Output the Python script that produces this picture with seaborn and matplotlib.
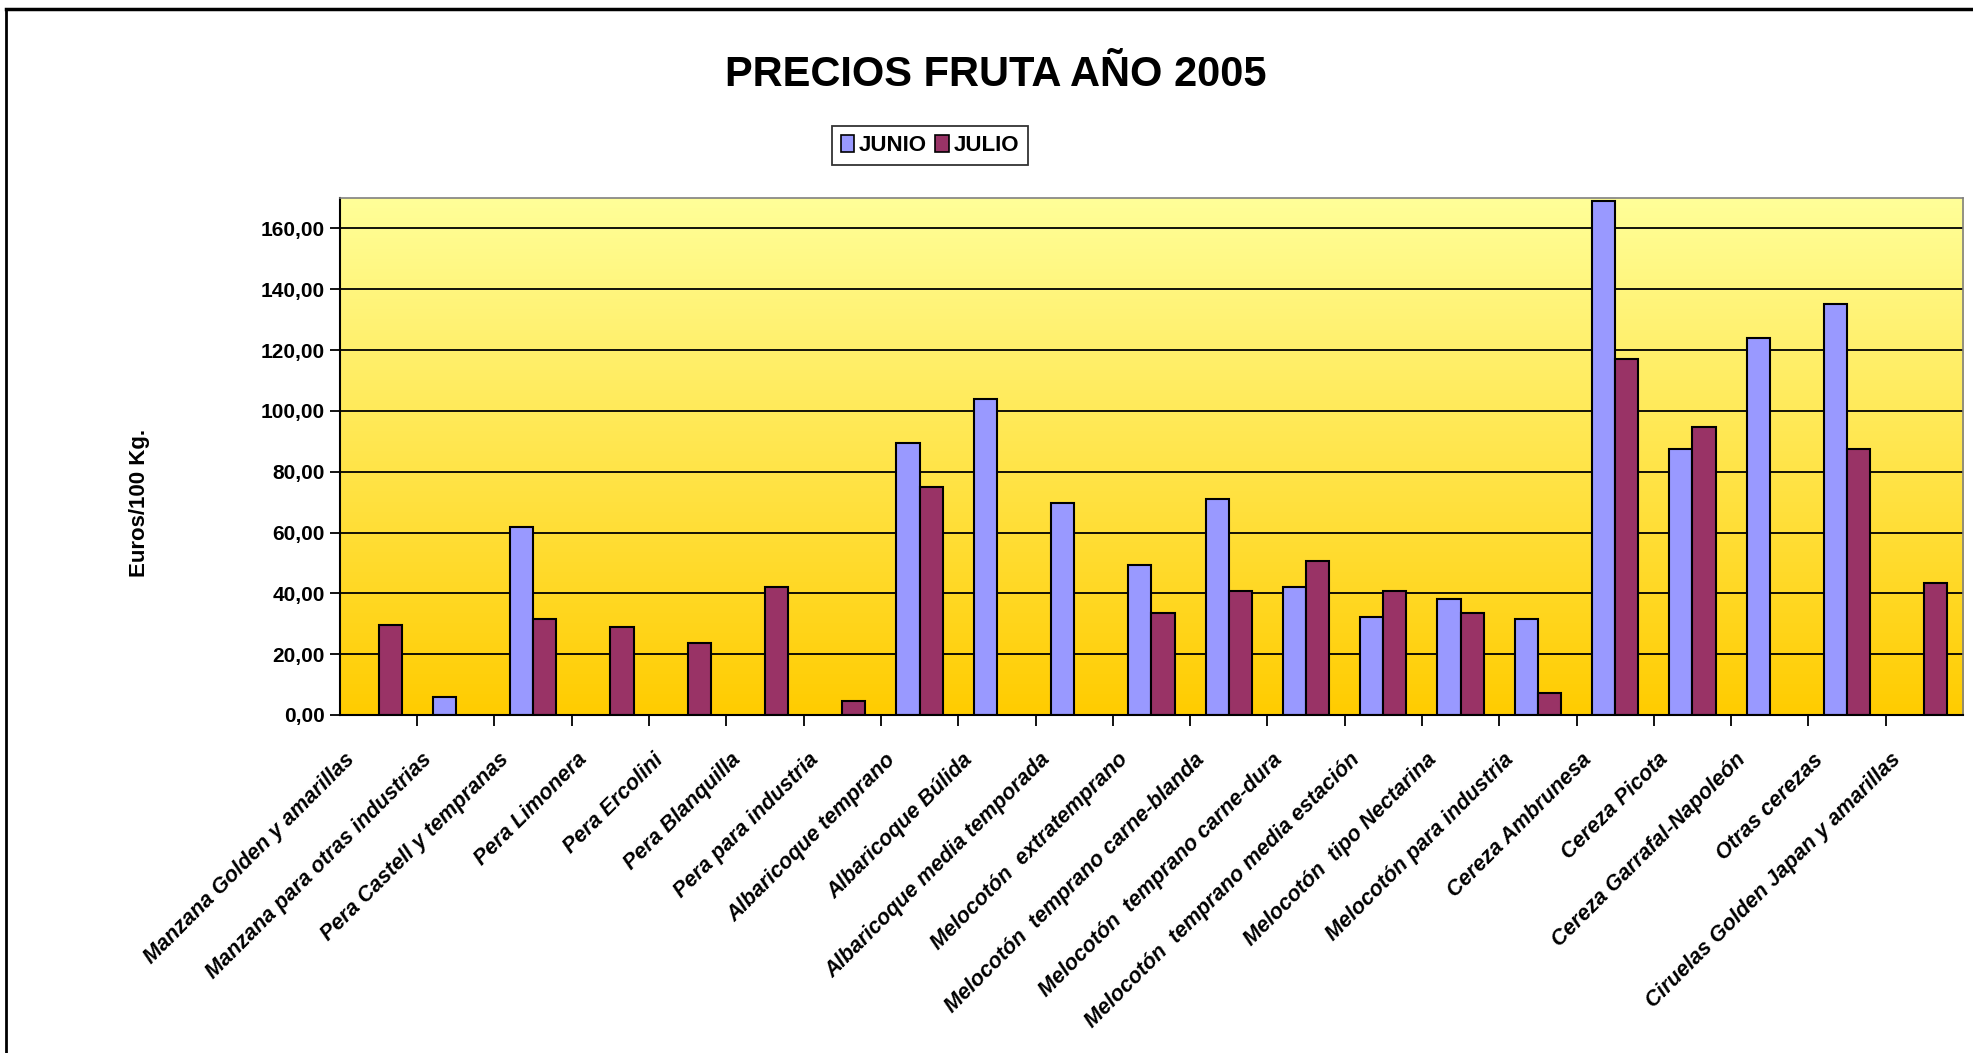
"""Precios fruta 2005: barras agrupadas JUNIO / JULIO."""

import matplotlib

matplotlib.use("Agg")
import matplotlib.pyplot as plt
import matplotlib.transforms as mtransforms
from matplotlib.colors import LinearSegmentedColormap
from matplotlib.lines import Line2D
from matplotlib.patches import Patch
from matplotlib.ticker import FuncFormatter, FixedLocator
import numpy as np
import pandas as pd
import seaborn as sns

frutas = [
    "Manzana Golden y amarillas",
    "Manzana para otras industrias",
    "Pera Castell y tempranas",
    "Pera Limonera",
    "Pera Ercolini",
    "Pera Blanquilla",
    "Pera para industria",
    "Albaricoque temprano",
    "Albaricoque Búlida",
    "Albaricoque media temporada",
    "Melocotón  extratemprano",
    "Melocotón  temprano carne-blanda",
    "Melocotón  temprano carne-dura",
    "Melocotón  temprano media estación",
    "Melocotón  tipo Nectarina",
    "Melocotón para industria",
    "Cereza Ambrunesa",
    "Cereza Picota",
    "Cereza Garrafal-Napoleón",
    "Otras cerezas",
    "Ciruelas Golden Japan y amarillas",
]
junio = [np.nan, 5.9, 61.9, np.nan, np.nan, np.nan, np.nan, 89.5, 104.0, 69.8,
         49.4, 71.1, 42.2, 32.3, 38.2, 31.6, 169.1, 87.5, 123.9, 135.0, np.nan]
julio = [29.6, np.nan, 31.6, 29.0, 23.6, 42.2, 4.6, 75.1, np.nan, np.nan,
         33.5, 40.8, 50.5, 40.8, 33.5, 7.2, 117.2, 94.8, np.nan, 87.5, 43.5]
meses = ["JUNIO", "JULIO"]
colores = {"JUNIO": "#9999FF", "JULIO": "#993366"}

df = pd.DataFrame({
    "fruta": frutas * 2,
    "mes": ["JUNIO"] * len(frutas) + ["JULIO"] * len(frutas),
    "precio": junio + julio,
})

FONT = "Liberation Sans"
plt.rcParams["font.family"] = [FONT, "DejaVu Sans"]

fig = plt.figure(figsize=(19.74, 10.53), dpi=100)
ax = fig.add_axes([0.1722, 0.321, 0.9944 - 0.1722, 0.812 - 0.321])

# fondo degradado del area de trazado
grad = LinearSegmentedColormap.from_list("fondo", ["#FFCC00", "#FFFF99"])
ax.imshow(np.linspace(0, 1, 256).reshape(-1, 1), cmap=grad, origin="lower",
          extent=(-0.5, len(frutas) - 0.5, 0, 170), aspect="auto", zorder=0)

sns.barplot(data=df, x="fruta", y="precio", hue="mes", hue_order=meses,
            palette=colores, order=frutas, width=0.6, errorbar=None,
            saturation=1, edgecolor="black", linewidth=1.5, legend=False,
            ax=ax, zorder=2)

ax.set_xlim(-0.5, len(frutas) - 0.5)
ax.set_ylim(0, 170)
ax.set_yticks(np.arange(0, 161, 20))
ax.yaxis.set_major_formatter(FuncFormatter(lambda v, p: f"{v:.2f}".replace(".", ",")))
ax.yaxis.grid(True, color="black", linewidth=1.3)
ax.set_axisbelow(True)
for line in ax.get_ygridlines():
    line.set_zorder(1)

ax.set_xlabel("")
ax.set_ylabel("Euros/100 Kg.", fontsize=16, fontweight="bold", labelpad=0)
ax.yaxis.set_label_coords(-0.117, 0.41)

for lab in ax.get_yticklabels():
    lab.set_fontweight("bold")
ax.tick_params(axis="y", labelsize=15, length=7, width=1.3, pad=4, color="black")

ax.set_xticks(range(len(frutas)))
ax.set_xticklabels(frutas, rotation=45, ha="right", va="center",
                   rotation_mode="anchor", fontsize=15.5,
                   fontweight="bold", fontstyle="italic")
ax.tick_params(axis="x", which="major", length=0, pad=30)
ax.xaxis.set_minor_locator(FixedLocator(np.arange(0.5, len(frutas) - 0.5, 1)))
ax.tick_params(axis="x", which="minor", length=8, width=1.3, color="black")
shift = mtransforms.ScaledTranslation(-0.27, 0, fig.dpi_scale_trans)
for lab in ax.get_xticklabels():
    lab.set_transform(lab.get_transform() + shift)

for side in ["left", "bottom"]:
    ax.spines[side].set_color("black")
    ax.spines[side].set_linewidth(1.5)
for side in ["top", "right"]:
    ax.spines[side].set_color("#808080")
    ax.spines[side].set_linewidth(1.2)

fig.text(0.5045, 0.929, "PRECIOS FRUTA AÑO 2005", ha="center", va="center",
         fontsize=30, fontweight="bold")

handles = [Patch(facecolor=colores[m], edgecolor="black", linewidth=1.2) for m in meses]
leg = fig.legend(handles, meses, loc="center", bbox_to_anchor=(0.471, 0.862),
                 ncol=2, frameon=True, fancybox=False, edgecolor="black",
                 handlelength=0.6, handleheight=0.8, handletextpad=0.2,
                 columnspacing=0.4, borderpad=0.4, borderaxespad=0,
                 prop={"family": FONT, "weight": "bold", "size": 16})
leg.get_frame().set_linewidth(1.3)

# marco del grafico
fig.add_artist(Line2D([0.003, 1.0], [0.9915, 0.9915], color="black", linewidth=2.5))
fig.add_artist(Line2D([0.003, 0.003], [0.0, 0.9915], color="black", linewidth=2.0))

fig.savefig("out.png", dpi=100)
plt.close(fig)
